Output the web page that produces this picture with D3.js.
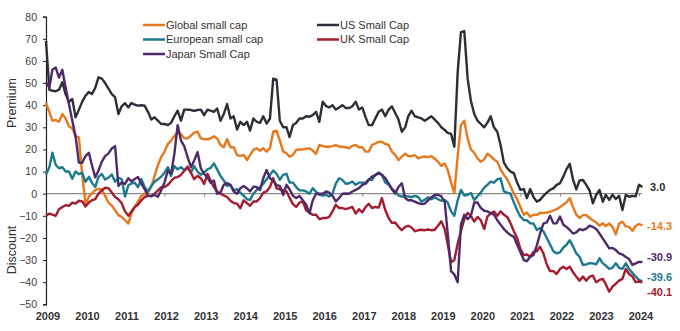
<!DOCTYPE html>
<html>
<head>
<meta charset="utf-8">
<script src="https://cdn.jsdelivr.net/npm/d3@7"></script>
<style>
  html, body { margin: 0; padding: 0; background: #fff; }
  svg { display: block; font-family: "Liberation Sans", Arial, sans-serif; }
</style>
</head>
<body>
<svg id="chart" width="680" height="331"></svg>
<script>
// ---- Data (monthly, Jan 2009 .. Feb 2024) ----
const months = d3.timeMonths(new Date(2009, 0, 1), new Date(2024, 2, 1)); // 182 months
const yearTicks = [2009,2010,2011,2012,2013,2014,2015,2016,2017,2018,2019,2020,2021,2022,2023,2024];
const yTicks = [80,70,60,50,40,30,20,10,0,-10,-20,-30,-40,-50];

const globalSmall = [
  41,37,33,33.3,32.5,36,34,30.5,29.5,26,25.5,9,
  -5,-1.3,0,1.6,2.2,2,-1,-4,-5.4,-7.5,-9.7,-10.5,
  -12,-13.5,-9,-6,-3.5,-1,0,0.5,3.2,8,13,16.5,
  19,22.5,24,26,27.6,27,25,25,26.2,27.6,28,25,
  24.6,24.6,25,26,25,22,21,24.7,21,21,17.5,17,
  17.5,15.2,17.4,19.8,20.5,19.4,20.5,19,20.5,28,28.5,24,
  19,18.3,16.7,17.5,19.8,20,20,20.3,20.5,19.5,18,22,
  21.5,21.2,21.2,21.5,22,21.2,21.2,21,20.5,21.6,22,21,
  21,19,19,22,22.7,23.4,23.5,22.5,22,19,17.5,15.2,
  16.7,18.1,17,17,17.4,16,16.5,16.8,16.5,17,15.8,14.5,
  12.5,13.7,10.7,5,0.3,17,31,33,25,20,18.5,16,
  14.4,15.5,18,17,15.5,14.4,11,8.5,6.5,3.5,0,-2.5,
  -6,-9.6,-8.5,-10.4,-9.5,-9.6,-8.6,-8.8,-8.5,-8.2,-7.6,-7,
  -6,-5,-4,-2,-6,-9.5,-11,-9.7,-9.7,-11,-12,-13,
  -14.5,-13.4,-14.6,-13.5,-15,-18.4,-13.5,-12.7,-14.8,-15,-16.8,-14.6,
  -13.7,-14.3
];
const usSmall = [
  69,47,46.5,46.3,47,50.4,45,41.5,42.8,34.5,38,41.5,
  44.3,46,45,47.8,52.6,52,50,47.5,45,43.6,36,39.5,
  40.9,39,41,40.2,39.8,40,39.8,37,33.5,34.5,33,31.5,
  31.5,31,32,35,37.5,33,38,38,37.8,37.5,37.8,38,
  35.5,38,37.5,37,38.5,33,36,40.5,34,35,29,32.5,
  31,32.5,28.5,34,32.5,32,35,31.7,34,52,51.5,33,
  30,30,25.6,31,32,34,34,35,34.8,35.5,37,32.5,
  41.6,39.6,39,40,38,39,40,38.7,38.7,39.5,41.6,38,
  39,34.5,31,31,34,37,38,35,38,39.5,36.5,33.5,
  28,30,35,37.5,35,34.5,34,33,34,35,33.5,32,
  30,28.8,27.5,27,21.2,55,73,73.5,52,42,36,33,
  31.5,30,32,35,30,28,22,14,11.5,10,9.3,5,
  1.7,2.1,-2,2.1,-1.5,-3.6,-2.8,-1,0.5,1.7,2.4,4,
  4.7,7.7,11,13.5,6.5,2,6,6.2,4,1.5,-4.3,-0.6,
  1.7,-3.6,-0.5,-2.8,-0.5,-2.4,-1,-7.4,-0.6,-1.4,-1,-1.2,
  4,3.0
];
const europeSmall = [
  8.5,12,18.5,13,11.5,12,10,10,6.8,10,8.8,9.5,
  5.4,7.6,5,3,7.6,8.9,6.4,7.2,8.7,5.4,7.2,6.6,
  -1.3,3.8,4.6,5,2.9,6.6,3,1,3.5,5.4,6.5,7.7,
  9.5,12,8,12.5,11,12,10.5,11.6,9.6,12.5,10,8.6,
  9.6,11,11.6,13.7,11,8,6,3.5,3.9,1.6,2,0.5,
  -1,-2.5,-2.8,0,1.7,3,4.5,6.5,8.5,10.5,9,6.3,
  8.5,9,5,5,3,1.5,1.5,1,0,2.5,0.8,-0.5,
  -0.8,-0.5,-1.3,0,4.5,7,6.2,4.5,4.7,5.5,4,5,
  5,5,6.5,6.2,8.5,9.6,8.5,5,4,2.3,1,-0.8,
  -1.3,-1.2,-1.2,-1.6,-1,-1.5,-3.6,-2.7,-1.6,-2.5,-1.6,-2.5,
  -3.2,-2.8,-4,-8,-10,-3,1.7,-0.8,-0.5,0.3,-2.8,-1.2,
  0.6,2.7,4,5.4,5,6.5,6.9,1,0.5,0,-4,-7.5,
  -10.4,-11.9,-12,-13.4,-13.5,-16.4,-15.5,-17,-20,-23,-26,-27,
  -26.5,-24.3,-23.2,-21,-23.8,-27,-28.5,-32.2,-32,-31.4,-31.5,-32,
  -29.2,-31.5,-32.5,-34,-33.5,-31.4,-33.5,-34,-31.5,-34,-35.8,-37.5,
  -39,-39.6
];
const ukSmall = [
  -10,-9,-9.5,-10,-7,-6,-5.2,-5.5,-4,-4.5,-3.2,-3.5,
  -5.8,-4,-3,-2.5,0,1.5,2.7,2.5,0.5,-1.5,-2.5,-4.3,
  -8,-10,-8,-6,-5,-3,-1.5,-1,-1,0,1.5,2.9,
  3,4,5.6,7.2,7.5,8.5,10.4,12.3,9.5,6.6,8.1,7,
  4.4,9,6,2.9,1,0,-0.8,-1.5,-3.2,-4.2,-4.5,-6.6,
  -3,-4.3,-5.5,-3.5,-3.5,-2,0.5,1,3,7,2.4,2,
  1.5,1,-1.8,-4.7,-6,-4,-3.5,-7.5,-8.5,-9.6,-9.5,-11.5,
  -11,-11,-10.5,-8,-5,-6.5,-6.5,-7,-6.5,-6,-9,-7,
  -8.5,-6,-4.6,-6.5,-6,-6.3,-2,-7.4,-11,-13.2,-13,-15,
  -16.5,-15,-14.5,-15.3,-17,-16.5,-16.3,-16.5,-16.2,-16.5,-16.3,-14.5,
  -12.5,-16,-23,-31,-30,-22.5,-17,-11.5,-8.7,-10,-12.6,-10.5,
  -12,-16,-10.4,-9,-8,-10,-8,-9.5,-10.5,-13.4,-17,-20,
  -25,-27.8,-27.5,-28.5,-26.3,-26,-24,-27,-32,-35,-35,-36.3,
  -34,-33,-34,-33,-35.5,-37.5,-39.3,-37.5,-39.3,-37.5,-37,-40,
  -39,-38.5,-41,-44.3,-42,-40.7,-39.3,-38.5,-34,-36.3,-37.5,-40,
  -39.7,-40.1
];
const japanSmall = [
  50.4,48,56,57,52.5,56,48,40.5,33,26,14,14,
  17,18.5,13,7.4,10.5,14.5,17,18.2,20.4,21.5,3.5,5.1,
  4.4,7,5.5,6.6,7.5,4.4,2.1,-0.9,-1.2,-0.5,-1.4,1.5,
  5.1,10.4,9,18,31,24,21.5,16.5,12,15,18.8,11.5,
  8.9,7.4,5,6,0,0.5,4,4.8,4,1,0,2.5,
  3.5,2.4,1,3.2,3,1.6,7,10.7,7,6,3.9,3.5,
  -0.5,4,2,-0.9,-2,-1,-3,-5,-8.9,-3,0,0,
  0,1,0.5,-1,-3.5,-2,0,0.1,0,1,1.7,2.5,
  4,4.5,6.2,7.7,8.4,9.3,8.5,7,4.7,2,0.1,3,
  4.7,-2,-3,-3,-3.6,-4.3,-4.7,-4.5,-3,-1.6,-0.6,-0.5,
  -1.3,-3.6,-18,-35,-36.5,-40,-14,-9.5,-11.5,-10,-4,-4,
  -6.5,-7.7,-8,-8.8,-9.5,-12,-14,-16,-17.5,-18.7,-19.5,-23,
  -26.5,-30,-30.5,-28.5,-27.8,-23.5,-18,-13.5,-13,-10,-13.4,-13.4,
  -10.3,-14,-15,-16.4,-18,-17.5,-16,-16.5,-15.8,-14.5,-15,-16,
  -18,-20.3,-22.4,-24.7,-24.5,-25.5,-27,-27.5,-28.6,-29.5,-32.2,-31.5,
  -30.8,-30.9
];

const seriesNames  = ["Global small cap", "US Small Cap", "European small cap", "UK Small Cap", "Japan Small Cap"];
const seriesValues = [globalSmall, usSmall, europeSmall, ukSmall, japanSmall];
const seriesColors = ["#E8781E", "#2B2F36", "#1B7A8D", "#A51C30", "#4E2A6B"];
const endLabels    = ["3.0", "-14.3", "-39.6", "-40.1", "-30.9"];
const endLabelSeries = [1, 0, 2, 3, 4];

// ---- Layout ----
const svg = d3.select("#chart");
const x = d3.scaleTime().domain([new Date(2009,0,1), new Date(2024,0,1)]).range([46, 639]);
const y = d3.scaleLinear().domain([-50, 80]).range([304.3, 16.7]);

// zero line with year ticks
svg.append("g")
  .attr("transform", `translate(0,${y(0)})`)
  .call(d3.axisBottom(x).tickValues(yearTicks.map(v => new Date(v,0,1))).tickSize(3).tickFormat(""))
  .call(g => g.select(".domain").attr("d", `M46,0H642`).attr("stroke", "#8a8a8a").attr("stroke-width", 1.2))
  .call(g => g.selectAll(".tick line").attr("stroke", "#8a8a8a"));

// year labels at bottom
svg.append("g").selectAll("text").data(yearTicks).join("text")
  .attr("x", d => x(new Date(d,0,1)) + 2)
  .attr("y", 320)
  .attr("text-anchor", "middle")
  .attr("font-size", 11)
  .attr("font-weight", "bold")
  .attr("fill", "#333")
  .text(d => d);

// y axis
svg.append("g")
  .attr("transform", "translate(46,0)")
  .call(d3.axisLeft(y).tickValues(yTicks).tickSize(3).tickPadding(6))
  .call(g => g.select(".domain").attr("stroke", "#222").attr("stroke-width", 1.2))
  .call(g => g.selectAll(".tick line").attr("stroke", "#222"))
  .call(g => g.selectAll(".tick text").attr("font-size", 10.5).attr("fill", "#404040")
      .attr("font-family", "'Liberation Sans', Arial, sans-serif"));

// y-axis titles
svg.append("text").attr("transform", "translate(16,103) rotate(-90)")
  .attr("text-anchor", "middle").attr("font-size", 12.5).attr("fill", "#333").text("Premium");
svg.append("text").attr("transform", "translate(16,250) rotate(-90)")
  .attr("text-anchor", "middle").attr("font-size", 12.5).attr("fill", "#333").text("Discount");

// lines
const line = d3.line().x((d, i) => x(months[i])).y(d => y(d));
seriesValues.forEach((vals, k) => {
  svg.append("path")
    .datum(vals)
    .attr("d", line)
    .attr("fill", "none")
    .attr("stroke", seriesColors[k])
    .attr("stroke-width", 2.4)
    .attr("stroke-linejoin", "round");
});

// end labels (positioned to avoid overlap)
const endLabelY = [187, 226, 277.5, 292, 257.5];
const endLabelX = [650, 647, 647, 647, 647];
endLabels.forEach((t, k) => {
  svg.append("text")
    .attr("x", endLabelX[k])
    .attr("y", endLabelY[k])
    .attr("dy", "0.35em")
    .attr("font-size", 11)
    .attr("font-weight", "bold")
    .attr("fill", seriesColors[endLabelSeries[k]])
    .text(t);
});

// legend
const legendPos = [[143, 25], [317, 25], [143, 39.5], [317, 39.5], [143, 54]];
seriesNames.forEach((name, k) => {
  const [lx, ly] = legendPos[k];
  svg.append("line").attr("x1", lx).attr("x2", lx + 22).attr("y1", ly).attr("y2", ly)
    .attr("stroke", seriesColors[k]).attr("stroke-width", 2.5);
  svg.append("text").attr("x", lx + 23).attr("y", ly).attr("dy", "0.35em")
    .attr("font-size", 11).attr("fill", "#333").text(name);
});
</script>
</body>
</html>
